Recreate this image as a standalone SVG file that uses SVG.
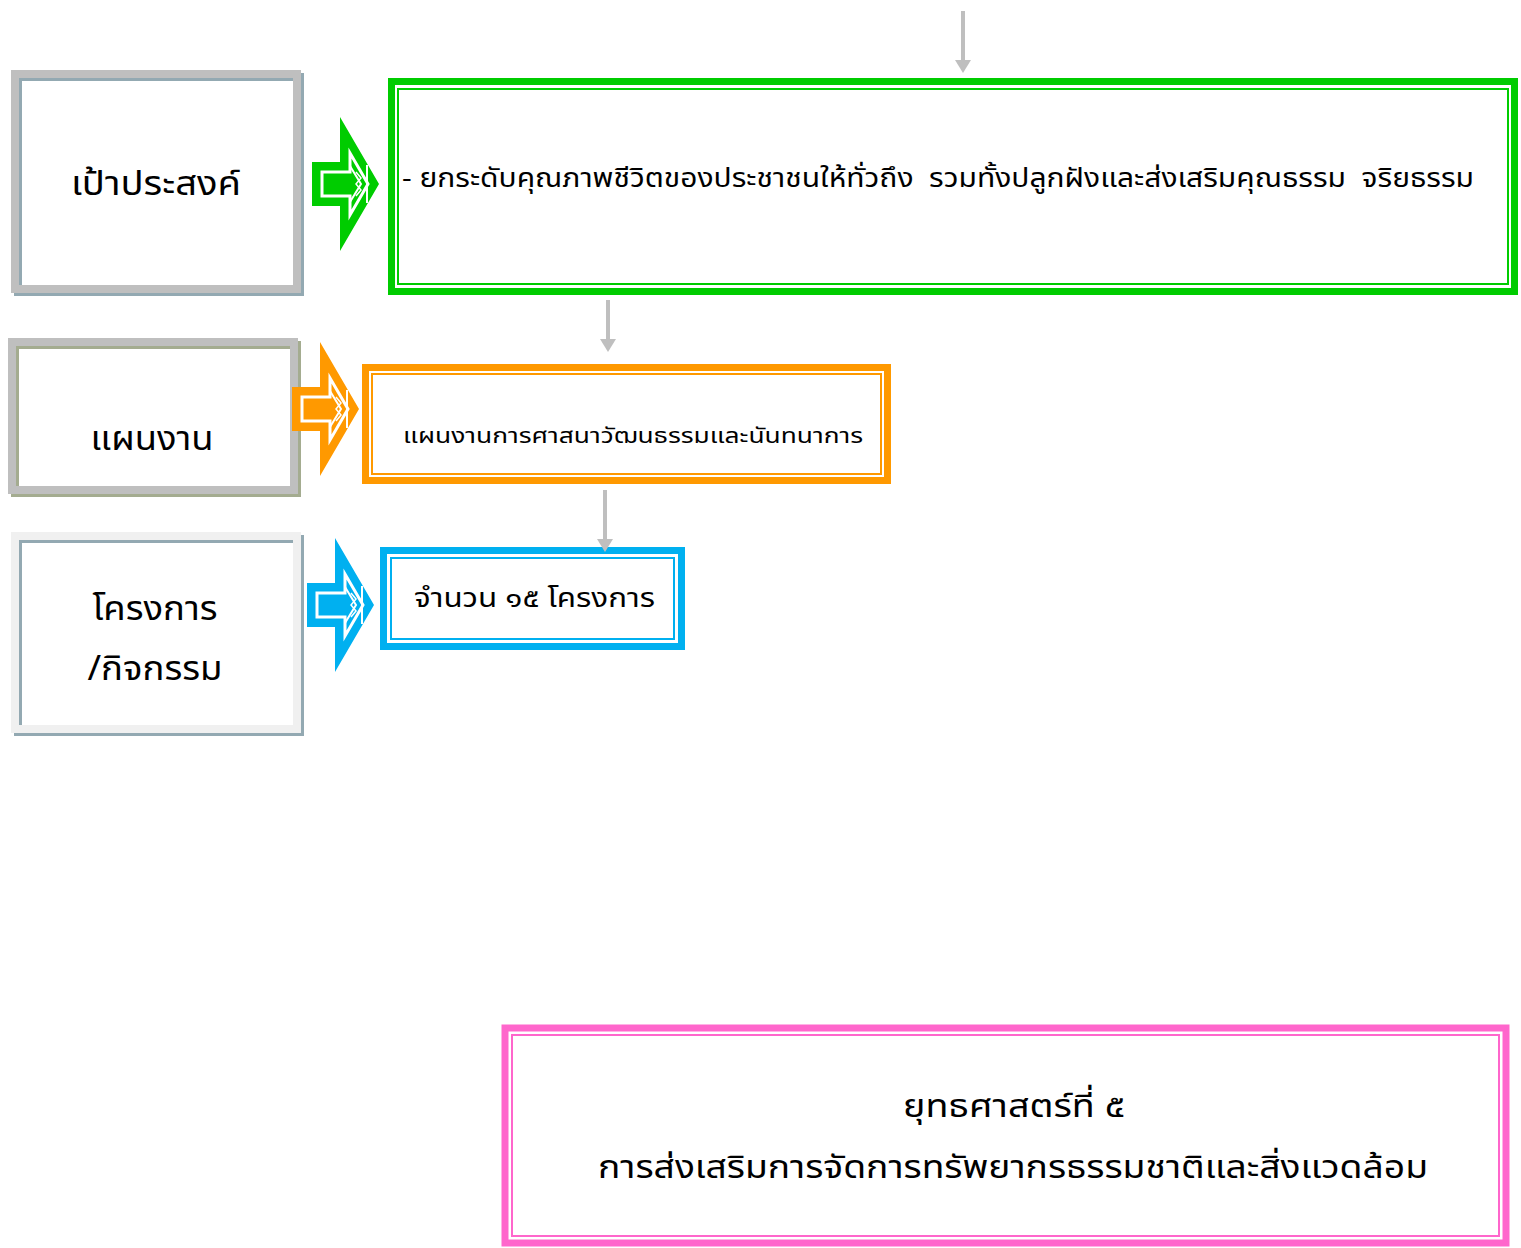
<svg xmlns="http://www.w3.org/2000/svg" width="1521" height="1248" viewBox="0 0 1521 1248">
<style>
  text { font-family: "Noto Sans Thai", "Noto Sans", "Liberation Sans", sans-serif; fill: #000; white-space: pre; }
  .lbl { font-size: 34px; text-anchor: middle; }
  .thick { fill: none; stroke-width: 7; }
  .thin { fill: none; stroke-width: 2; }
  .conn { stroke: #bfbfbf; stroke-width: 4; fill: none; }
</style>
<defs>
  <marker id="gh" viewBox="0 0 13 16" refX="0" refY="8" markerWidth="13" markerHeight="16" markerUnits="userSpaceOnUse" orient="auto">
    <path d="M0,0 L13,8 L0,16 Z" fill="#bfbfbf"/>
  </marker>
  <g id="barrow">
    <path d="M0,-22 H28 V-67 L67,0 L28,67 V22 H0 Z"/>
    <path d="M10,-12 H38 V-31 L56,0 L38,31 V12 H10 Z" fill="none" stroke="#fff" stroke-width="3"/>
    <path d="M38,-18 L49,0 L38,18" fill="none" stroke="#fff" stroke-width="2"/>
    <path d="M55,-19 V19" fill="none" stroke="#fff" stroke-width="2"/>
    <path d="M44,-12 L49,-6 L44,0 L49,6 L44,12" fill="none" stroke="#fff" stroke-width="1.5"/>
  </g>
</defs>
<rect width="1521" height="1248" fill="#fff"/>

<g id="label-goal">
  <rect x="15" y="74" width="282" height="215" fill="#fff"/>
  <rect x="18" y="77" width="282" height="215" fill="none" stroke="#93a9b2" stroke-width="8"/>
  <rect x="15" y="74" width="282" height="215" fill="none" stroke="#bfbfbf" stroke-width="8"/>
  <text class="lbl" x="156" y="195" textLength="170" lengthAdjust="spacingAndGlyphs">เป้าประสงค์</text>
</g>

<g id="label-plan">
  <rect x="12" y="342" width="282" height="148" fill="#fff"/>
  <rect x="15" y="345" width="282" height="148" fill="none" stroke="#a4ac90" stroke-width="8"/>
  <rect x="12" y="342" width="282" height="148" fill="none" stroke="#bfbfbf" stroke-width="8"/>
  <text class="lbl" x="152" y="450" textLength="123" lengthAdjust="spacingAndGlyphs">แผนงาน</text>
</g>

<g id="label-project">
  <rect x="15" y="536" width="282" height="193" fill="#fff"/>
  <rect x="18" y="539" width="282" height="193" fill="none" stroke="#93a9b2" stroke-width="8"/>
  <rect x="15" y="536" width="282" height="193" fill="none" stroke="#f0f0f0" stroke-width="8"/>
  <text class="lbl" x="155" y="620" textLength="125" lengthAdjust="spacingAndGlyphs">โครงการ</text>
  <text class="lbl" x="155" y="680" textLength="135" lengthAdjust="spacingAndGlyphs">/กิจกรรม</text>
</g>

<g id="goal-box">
  <rect x="388" y="78" width="1130" height="217" fill="#fff"/>
  <rect class="thick" x="391.5" y="81.5" width="1123" height="210" stroke="#00cc00"/>
  <rect class="thin" x="398" y="89" width="1110" height="195" stroke="#00cc00"/>
  <text x="402" y="187" style="font-size:26px" textLength="1072" lengthAdjust="spacingAndGlyphs">- ยกระดับคุณภาพชีวิตของประชาชนให้ทั่วถึง  รวมทั้งปลูกฝังและส่งเสริมคุณธรรม  จริยธรรม</text>
</g>

<g id="plan-box">
  <rect x="362" y="364" width="529" height="120" fill="#fff"/>
  <rect class="thick" x="365.5" y="367.5" width="522" height="113" stroke="#ff9900"/>
  <rect class="thin" x="372" y="374" width="509" height="100" stroke="#ff9900"/>
  <text x="403" y="443" style="font-size:22px" textLength="460" lengthAdjust="spacingAndGlyphs">แผนงานการศาสนาวัฒนธรรมและนันทนาการ</text>
</g>

<g id="project-box">
  <rect x="380" y="547" width="305" height="103" fill="#fff"/>
  <rect class="thick" x="383.5" y="550.5" width="298" height="96" stroke="#00b0f0"/>
  <rect class="thin" x="391" y="558" width="283" height="81" stroke="#00b0f0"/>
  <text x="414" y="607" style="font-size:26px" textLength="241" lengthAdjust="spacingAndGlyphs">จำนวน ๑๕ โครงการ</text>
</g>

<g id="strategy-box">
  <rect x="501" y="1024" width="1009" height="223" fill="#fff"/>
  <rect class="thick" x="505" y="1028" width="1001" height="215" stroke="#ff66cc" stroke-width="8"/>
  <rect class="thin" x="512" y="1035" width="987" height="201" stroke="#ff66cc"/>
  <text x="1014" y="1117" style="font-size:32px;text-anchor:middle" textLength="222" lengthAdjust="spacingAndGlyphs">ยุทธศาสตร์ที่ ๕</text>
  <text x="1013" y="1178" style="font-size:32px;text-anchor:middle" textLength="830" lengthAdjust="spacingAndGlyphs">การส่งเสริมการจัดการทรัพยากรธรรมชาติและสิ่งแวดล้อม</text>
</g>

<g id="connectors">
  <line class="conn" x1="963" y1="11" x2="963" y2="60" marker-end="url(#gh)"/>
  <line class="conn" x1="608" y1="300" x2="608" y2="339" marker-end="url(#gh)"/>
  <line class="conn" x1="605" y1="490" x2="605" y2="539" marker-end="url(#gh)"/>
  <use href="#barrow" transform="translate(312,184)" fill="#00cc00"/>
  <use href="#barrow" transform="translate(292,409)" fill="#ff9900"/>
  <use href="#barrow" transform="translate(307,605)" fill="#00b0f0"/>
</g>
</svg>
